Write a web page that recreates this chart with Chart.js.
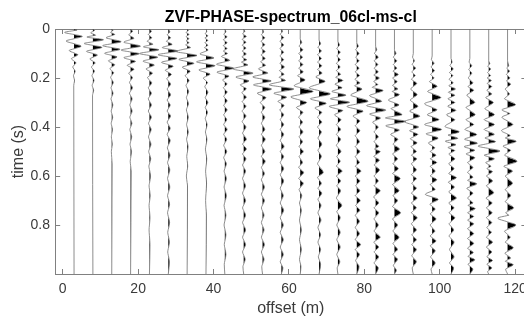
<!DOCTYPE html>
<html><head><meta charset="utf-8">
<script src="https://cdn.jsdelivr.net/npm/chart.js@4/dist/chart.umd.min.js"></script>
<style>html,body{margin:0;padding:0;background:#fff;overflow:hidden}#wrap{width:524px;height:320px;overflow:hidden}canvas{display:block}</style>
</head><body><div id="wrap"><canvas id="c" width="530" height="320" style="width:530px;height:320px"></canvas></div>
<script>
const chartTitle = 'ZVF-PHASE-spectrum_06cl-ms-cl';
const xAxisLabel = 'offset (m)';
const yAxisLabel = 'time (s)';
const xTickValues = [0, 20, 40, 60, 80, 100, 120];
const xTickLabels = ['0', '20', '40', '60', '80', '100', '120'];
const yTickValues = [0, 0.2, 0.4, 0.6, 0.8];
const yTickLabels = ['0', '0.2', '0.4', '0.6', '0.8'];
const offsets = [3, 8, 13, 18, 23, 28, 33, 38, 43, 48, 53, 58, 63, 68, 73, 78, 83, 88, 93, 98, 103, 108, 113, 118];

// each trace: [time (s), amplitude (m of offset), ...] at the extrema of the wiggle
const trace03 = [0,0, 0.004,0.8, 0.014,-2.5, 0.030,2.2, 0.049,-2.1, 0.070,1.9, 0.088,-1.3, 0.105,1.0, 0.121,-0.7, 0.138,0.5, 0.155,-0.35, 0.172,0.3, 0.19,-0.15, 0.21,0.12, 0.23,-0.08, 1,0];
const trace08 = [0,0, 0.006,0.4, 0.016,-0.6, 0.025,0.7, 0.033,-1.6, 0.044,2.8, 0.059,-2.3, 0.075,2.4, 0.091,-1.7, 0.106,1.2, 0.122,-0.8, 0.138,0.6, 0.155,-0.4, 0.172,0.4, 0.19,-0.25, 0.21,0.3, 0.23,-0.2, 0.25,0.2, 0.27,-0.1, 1,0];
const trace13 = [0,0, 0.006,0.3, 0.014,-0.3, 0.022,0.8, 0.036,-1.5, 0.052,2.5, 0.068,-2.4, 0.083,2.2, 0.099,-1.9, 0.114,1.4, 0.13,-0.9, 0.146,0.8, 0.162,-0.5, 0.178,0.5, 0.197,-0.3, 0.218,0.4, 0.24,-0.2, 0.262,0.35, 0.285,-0.2, 0.31,0.3, 0.335,-0.15, 0.36,0.25, 0.385,-0.15, 0.41,0.2, 0.44,-0.1, 0.47,0.15, 0.5,-0.1, 0.55,0.1, 1,0];
const trace18 = [0,0, 0.01,0.5, 0.024,-0.5, 0.038,0.9, 0.054,-1.8, 0.07,2.6, 0.086,-2.5, 0.101,2.3, 0.117,-1.8, 0.132,1.3, 0.148,-0.9, 0.164,0.9, 0.18,-0.5, 0.198,0.5, 0.218,-0.3, 0.24,0.5, 0.262,-0.3, 0.285,0.4, 0.31,-0.2, 0.335,0.4, 0.36,-0.2, 0.385,0.35, 0.41,-0.2, 0.44,0.3, 0.47,-0.15, 0.5,0.25, 0.54,-0.1, 0.58,0.15, 1,0];
const trace23 = [0,0, 0.01,0.5, 0.022,-0.3, 0.036,0.6, 0.05,-0.6, 0.062,0.9, 0.073,-1.6, 0.085,2.5, 0.1,-2.6, 0.115,2.2, 0.131,-1.7, 0.147,1.3, 0.163,-0.9, 0.18,0.8, 0.198,-0.5, 0.22,0.6, 0.24,-0.3, 0.262,0.5, 0.285,-0.3, 0.31,0.5, 0.335,-0.3, 0.36,0.5, 0.385,-0.25, 0.41,0.45, 0.44,-0.25, 0.47,0.4, 0.5,-0.2, 0.53,0.35, 0.56,-0.15, 0.6,0.3, 0.64,-0.1, 0.68,0.2, 0.72,-0.1, 0.77,0.15, 0.82,-0.1, 0.88,0.15, 1,0];
const trace28 = [0,0, 0.012,0.4, 0.024,-0.3, 0.036,0.6, 0.05,-0.5, 0.063,1.0, 0.076,-1.6, 0.09,2.5, 0.105,-2.7, 0.12,2.3, 0.136,-1.8, 0.152,1.3, 0.168,-0.8, 0.185,0.8, 0.202,-0.4, 0.225,0.6, 0.245,-0.3, 0.268,0.6, 0.29,-0.3, 0.31,0.5, 0.335,-0.3, 0.355,0.6, 0.38,-0.3, 0.405,0.5, 0.43,-0.3, 0.455,0.5, 0.485,-0.25, 0.515,0.45, 0.545,-0.2, 0.575,0.4, 0.61,-0.2, 0.645,0.4, 0.68,-0.2, 0.715,0.35, 0.75,-0.2, 0.79,0.35, 0.83,-0.15, 0.87,0.3, 0.91,-0.15, 0.95,0.3, 1,0];
const trace33 = [0,0, 0.006,0.3, 0.014,-0.3, 0.022,0.5, 0.031,-0.3, 0.04,0.5, 0.048,-0.3, 0.056,0.5, 0.065,-0.4, 0.076,0.9, 0.092,-2.9, 0.108,2.6, 0.124,-2.2, 0.14,1.8, 0.156,-1.3, 0.172,0.8, 0.19,-0.5, 0.21,0.5, 0.23,-0.3, 0.255,0.4, 0.28,-0.2, 0.305,0.35, 0.33,-0.2, 0.36,0.3, 0.39,-0.15, 0.42,0.3, 0.45,-0.15, 0.48,0.25, 0.52,-0.1, 0.56,0.15, 0.6,-0.2, 0.64,0.1, 1,0];
const trace38 = [0,0, 0.01,0.2, 0.02,-0.2, 0.028,0.5, 0.037,-0.3, 0.046,0.5, 0.056,-0.3, 0.066,0.5, 0.076,-0.4, 0.086,0.6, 0.102,-1.6, 0.118,2.1, 0.134,-2.5, 0.15,2.4, 0.167,-1.9, 0.184,1.1, 0.2,-0.7, 0.218,0.4, 0.235,-0.3, 0.258,0.5, 0.28,-0.2, 0.3,0.5, 0.32,-0.2, 0.34,0.4, 0.365,-0.2, 0.39,0.3, 0.42,-0.15, 0.45,0.25, 0.49,-0.15, 0.53,0.2, 0.58,-0.1, 0.63,0.15, 0.7,-0.1, 0.76,0.1, 1,0];
const trace43 = [0,0, 0.012,0.3, 0.022,-0.3, 0.032,0.6, 0.044,-0.4, 0.056,0.6, 0.068,-0.4, 0.08,0.6, 0.09,-0.4, 0.1,0.7, 0.112,-0.9, 0.128,1.3, 0.144,-2.2, 0.16,2.4, 0.176,-2.1, 0.192,1.1, 0.208,-0.6, 0.224,0.6, 0.24,-0.4, 0.257,0.6, 0.275,-0.3, 0.293,0.6, 0.312,-0.3, 0.33,0.6, 0.35,-0.3, 0.37,0.5, 0.39,-0.3, 0.41,0.6, 0.43,-0.3, 0.45,0.5, 0.475,-0.3, 0.5,0.5, 0.525,-0.3, 0.55,0.4, 0.58,-0.2, 0.61,0.4, 0.645,-0.2, 0.68,0.4, 0.72,-0.2, 0.76,0.3, 0.8,-0.2, 0.84,0.3, 0.88,-0.15, 0.92,0.3, 0.96,-0.15, 1,0];
const trace48 = [0,0, 0.01,0.3, 0.02,-0.3, 0.03,0.7, 0.042,-0.4, 0.054,0.6, 0.066,-0.4, 0.078,0.6, 0.09,-0.4, 0.102,0.7, 0.114,-0.5, 0.126,0.8, 0.135,-0.6, 0.147,1.1, 0.163,-2.8, 0.18,2.5, 0.196,-2.1, 0.212,1.4, 0.228,-0.9, 0.244,0.7, 0.26,-0.5, 0.278,0.7, 0.296,-0.4, 0.315,0.6, 0.335,-0.4, 0.355,0.6, 0.378,-0.4, 0.4,0.6, 0.425,-0.3, 0.45,0.7, 0.47,-0.3, 0.49,0.7, 0.51,-0.3, 0.53,0.6, 0.555,-0.3, 0.58,0.5, 0.61,-0.3, 0.64,0.5, 0.67,-0.3, 0.7,0.5, 0.73,-0.3, 0.76,0.5, 0.79,-0.3, 0.82,0.5, 0.85,-0.3, 0.88,0.5, 0.91,-0.3, 0.94,0.4, 0.97,-0.2, 1,0];
const trace53 = [0,0, 0.012,0.3, 0.024,-0.3, 0.036,0.6, 0.05,-0.4, 0.064,0.6, 0.078,-0.4, 0.092,0.7, 0.106,-0.4, 0.12,0.7, 0.134,-0.5, 0.148,0.8, 0.163,-1.1, 0.18,1.4, 0.196,-2.6, 0.212,2.3, 0.228,-2.4, 0.245,2.4, 0.262,-1.4, 0.28,0.9, 0.3,-0.6, 0.32,0.6, 0.34,-0.3, 0.36,0.6, 0.385,-0.3, 0.41,0.6, 0.43,-0.3, 0.45,0.7, 0.475,-0.3, 0.5,0.6, 0.52,-0.3, 0.54,0.7, 0.565,-0.3, 0.59,0.5, 0.615,-0.3, 0.645,0.5, 0.675,-0.3, 0.7,0.5, 0.73,-0.3, 0.76,0.4, 0.79,-0.3, 0.82,0.4, 0.85,-0.3, 0.88,0.5, 0.91,-0.3, 0.94,0.4, 0.97,-0.2, 1,0];
const trace58 = [0,0, 0.01,0.3, 0.022,-0.3, 0.035,0.6, 0.05,-0.4, 0.065,0.6, 0.08,-0.4, 0.095,0.6, 0.11,-0.4, 0.125,0.6, 0.14,-0.4, 0.155,0.8, 0.17,-0.5, 0.185,0.7, 0.197,-0.6, 0.21,1.1, 0.228,-3.2, 0.245,3.3, 0.262,-2.0, 0.278,1.4, 0.295,-0.9, 0.312,0.7, 0.33,-0.4, 0.35,0.6, 0.37,-0.3, 0.39,0.6, 0.41,-0.3, 0.43,0.6, 0.455,-0.3, 0.48,0.7, 0.5,-0.3, 0.52,0.6, 0.545,-0.3, 0.57,0.6, 0.595,-0.3, 0.62,0.6, 0.65,-0.3, 0.68,0.5, 0.71,-0.3, 0.74,0.6, 0.77,-0.3, 0.8,0.5, 0.83,-0.3, 0.86,0.5, 0.89,-0.3, 0.92,0.5, 0.95,-0.3, 0.975,0.4, 1,0];
const trace63 = [0,0, 0.04,0, 0.055,0.4, 0.07,-0.3, 0.085,0.7, 0.1,-0.4, 0.115,0.6, 0.13,-0.4, 0.145,0.7, 0.16,-0.4, 0.175,0.8, 0.191,-0.7, 0.208,1.3, 0.232,-1.6, 0.255,3.4, 0.277,-2.5, 0.3,1.7, 0.32,-1.0, 0.34,0.7, 0.36,-0.4, 0.38,0.6, 0.4,-0.3, 0.42,0.7, 0.44,-0.3, 0.46,0.6, 0.48,-0.3, 0.5,0.8, 0.52,-0.3, 0.545,0.6, 0.565,-0.4, 0.586,0.9, 0.61,-0.4, 0.63,0.8, 0.655,-0.3, 0.68,0.4, 0.71,-0.2, 0.74,0.3, 0.78,-0.2, 0.82,0.3, 0.86,-0.2, 0.9,0.3, 0.94,-0.2, 0.97,0.2, 1,0];
const trace68 = [0,0, 0.045,0, 0.06,0.4, 0.075,-0.3, 0.09,0.6, 0.105,-0.4, 0.12,0.6, 0.135,-0.4, 0.15,0.7, 0.165,-0.4, 0.18,0.8, 0.196,-0.9, 0.214,1.6, 0.24,-2.6, 0.265,3.0, 0.285,-2.3, 0.303,1.9, 0.322,-1.1, 0.34,0.7, 0.36,-0.4, 0.38,0.7, 0.4,-0.4, 0.42,0.6, 0.445,-0.3, 0.47,0.7, 0.495,-0.3, 0.52,0.6, 0.55,-0.4, 0.586,1.1, 0.605,-0.4, 0.63,0.6, 0.65,-0.3, 0.67,0.7, 0.695,-0.3, 0.72,0.5, 0.75,-0.3, 0.78,0.5, 0.81,-0.3, 0.84,0.4, 0.87,-0.3, 0.9,0.4, 0.93,-0.2, 0.96,0.4, 1,0];
const trace73 = [0,0, 0.05,0, 0.065,0.4, 0.08,-0.3, 0.095,0.6, 0.11,-0.3, 0.125,0.6, 0.14,-0.4, 0.155,0.6, 0.17,-0.4, 0.185,0.7, 0.197,-0.6, 0.21,1.3, 0.225,-0.8, 0.24,1.1, 0.255,-1.6, 0.27,2.1, 0.285,-2.0, 0.299,3.1, 0.316,-2.3, 0.333,1.3, 0.35,-0.9, 0.37,0.8, 0.39,-0.4, 0.41,0.7, 0.43,-0.4, 0.45,0.7, 0.475,-0.4, 0.5,0.8, 0.52,-0.3, 0.54,0.6, 0.56,-0.4, 0.58,1.1, 0.6,-0.4, 0.62,0.7, 0.64,-0.3, 0.66,0.7, 0.69,-0.4, 0.72,1.0, 0.745,-0.3, 0.77,0.6, 0.8,-0.3, 0.83,0.6, 0.86,-0.3, 0.89,0.6, 0.92,-0.3, 0.95,0.5, 0.975,-0.2, 1,0];
const trace78 = [0,0, 0.055,0, 0.07,0.4, 0.085,-0.3, 0.1,0.6, 0.115,-0.3, 0.13,0.6, 0.145,-0.4, 0.16,0.6, 0.175,-0.4, 0.19,0.7, 0.205,-0.5, 0.22,0.8, 0.232,-0.6, 0.245,1.4, 0.27,-1.6, 0.295,3.0, 0.316,-2.6, 0.335,1.7, 0.355,-1.0, 0.375,0.8, 0.395,-0.4, 0.415,0.8, 0.435,-0.4, 0.46,0.7, 0.48,-0.4, 0.5,0.8, 0.52,-0.4, 0.545,0.7, 0.56,-0.4, 0.58,1.1, 0.6,-0.4, 0.62,0.8, 0.64,-0.3, 0.66,0.8, 0.68,-0.4, 0.7,0.9, 0.72,-0.3, 0.74,0.8, 0.76,-0.4, 0.785,0.7, 0.81,-0.4, 0.835,0.7, 0.86,-0.4, 0.88,1.0, 0.9,-0.4, 0.92,0.7, 0.945,-0.3, 0.97,0.6, 1,0];
const trace83 = [0,0, 0.07,0, 0.085,0.3, 0.1,-0.3, 0.115,0.7, 0.13,-0.4, 0.145,0.6, 0.16,-0.4, 0.175,0.7, 0.188,-0.5, 0.2,1.0, 0.214,-0.5, 0.227,0.6, 0.238,-0.9, 0.251,2.0, 0.272,-1.6, 0.295,1.6, 0.313,-2.4, 0.331,2.7, 0.347,-1.6, 0.363,1.3, 0.38,-0.8, 0.4,0.7, 0.42,-0.4, 0.44,0.7, 0.46,-0.4, 0.48,0.8, 0.49,-0.3, 0.5,1.2, 0.52,-0.5, 0.535,1.0, 0.555,-0.4, 0.575,1.0, 0.6,-0.4, 0.62,0.7, 0.64,-0.4, 0.66,1.2, 0.685,-0.5, 0.71,0.8, 0.73,-0.4, 0.75,0.8, 0.775,-0.4, 0.8,0.7, 0.825,-0.4, 0.85,1.2, 0.87,-0.5, 0.89,0.8, 0.91,-0.4, 0.93,0.8, 0.955,-0.4, 0.975,0.7, 1,0];
const trace88 = [0,0, 0.085,0, 0.1,0.4, 0.115,-0.3, 0.13,0.6, 0.145,-0.3, 0.16,0.6, 0.172,-0.4, 0.186,1.0, 0.2,-0.5, 0.215,0.7, 0.23,-0.5, 0.245,0.9, 0.255,-0.6, 0.268,1.3, 0.29,-1.6, 0.31,1.2, 0.325,-0.9, 0.35,2.0, 0.363,-2.4, 0.377,3.0, 0.395,-2.3, 0.412,1.3, 0.43,-1.0, 0.45,0.9, 0.47,-0.4, 0.49,1.3, 0.51,-0.5, 0.53,0.8, 0.55,-0.4, 0.57,1.0, 0.59,-0.5, 0.61,1.5, 0.635,-0.5, 0.66,1.2, 0.68,-0.4, 0.7,0.8, 0.725,-0.5, 0.75,1.6, 0.775,-0.5, 0.8,0.8, 0.825,-0.4, 0.85,1.2, 0.875,-0.4, 0.9,0.8, 0.92,-0.4, 0.94,0.8, 0.965,-0.3, 0.985,0.5, 1,0];
const trace93 = [0,0, 0.1,0, 0.115,-0.2, 0.13,0.3, 0.145,-0.3, 0.16,0.6, 0.175,-0.4, 0.19,0.5, 0.205,-0.5, 0.222,0.9, 0.245,-0.7, 0.268,1.0, 0.29,-0.8, 0.316,1.2, 0.335,-1.0, 0.356,1.7, 0.378,-2.3, 0.4,1.4, 0.415,-1.0, 0.43,1.2, 0.448,-0.8, 0.465,1.0, 0.48,-0.6, 0.5,0.8, 0.515,-0.5, 0.53,0.9, 0.55,-0.5, 0.575,0.8, 0.595,-0.5, 0.61,0.8, 0.63,-0.4, 0.65,0.8, 0.67,-0.5, 0.69,1.0, 0.71,-0.5, 0.73,0.8, 0.75,-0.5, 0.77,1.0, 0.795,-0.5, 0.82,0.8, 0.84,-0.4, 0.86,0.8, 0.88,-0.4, 0.9,0.8, 0.925,-0.4, 0.95,0.8, 0.975,-0.3, 1,0];
const trace98 = [0,0, 0.11,0, 0.125,-0.2, 0.14,0.5, 0.155,-0.3, 0.17,0.6, 0.185,-0.4, 0.2,0.5, 0.215,-0.7, 0.234,1.3, 0.255,-1.2, 0.28,2.3, 0.305,-2.0, 0.33,1.3, 0.35,-1.3, 0.37,1.8, 0.39,-2.0, 0.41,2.5, 0.428,-1.6, 0.445,1.6, 0.465,-1.0, 0.485,0.7, 0.5,-0.5, 0.515,1.0, 0.53,-0.5, 0.545,1.2, 0.56,-0.5, 0.58,0.8, 0.6,-0.5, 0.615,1.2, 0.635,-0.5, 0.655,0.8, 0.675,-1.8, 0.695,1.6, 0.715,-0.6, 0.735,0.8, 0.755,-0.5, 0.775,1.0, 0.8,-0.5, 0.825,0.7, 0.845,-0.5, 0.865,1.0, 0.885,-0.5, 0.905,0.8, 0.93,-0.4, 0.955,0.8, 0.98,-0.3, 1,0];
const trace103 = [0,0, 0.12,0, 0.135,0.3, 0.15,-0.3, 0.163,0.6, 0.178,-0.4, 0.19,0.5, 0.205,-0.5, 0.22,0.6, 0.232,-0.6, 0.245,1.2, 0.258,-0.7, 0.27,1.0, 0.285,-0.8, 0.3,1.0, 0.315,-0.9, 0.332,1.3, 0.35,-1.2, 0.37,1.0, 0.398,-1.6, 0.42,2.2, 0.433,-0.8, 0.446,1.8, 0.458,-1.5, 0.472,1.3, 0.484,-0.8, 0.496,1.0, 0.51,-0.6, 0.53,1.0, 0.55,-0.6, 0.57,0.8, 0.59,-0.6, 0.607,1.4, 0.625,-0.7, 0.645,0.9, 0.665,-0.6, 0.69,1.4, 0.71,-0.6, 0.73,0.8, 0.75,-0.5, 0.77,1.0, 0.795,-0.5, 0.82,0.7, 0.845,-0.5, 0.87,0.8, 0.9,-0.4, 0.93,0.8, 0.955,-0.4, 0.975,0.7, 1,0];
const trace108 = [0,0, 0.12,0, 0.135,-0.2, 0.15,0.5, 0.165,-0.3, 0.18,0.5, 0.2,-0.4, 0.22,0.8, 0.235,-0.5, 0.25,1.0, 0.27,-0.8, 0.3,1.3, 0.32,-1.0, 0.35,1.4, 0.37,-1.0, 0.39,1.0, 0.41,-1.3, 0.431,1.8, 0.45,-1.4, 0.466,2.0, 0.48,-1.5, 0.495,1.3, 0.51,-1.0, 0.525,1.3, 0.545,-0.6, 0.565,0.8, 0.585,-0.6, 0.605,0.8, 0.618,-0.6, 0.632,1.8, 0.65,-0.8, 0.67,0.8, 0.69,-0.6, 0.71,0.8, 0.72,-0.5, 0.733,1.4, 0.75,-0.6, 0.765,1.0, 0.78,-0.6, 0.795,1.0, 0.815,-0.6, 0.835,1.0, 0.855,-0.6, 0.875,1.0, 0.895,-0.6, 0.912,0.9, 0.928,-0.5, 0.942,1.3, 0.96,-0.5, 0.98,0.8, 1,0];
const trace113 = [0,0, 0.13,0, 0.142,0.3, 0.152,-0.3, 0.163,0.5, 0.178,-0.3, 0.19,0.5, 0.2,-0.4, 0.21,0.7, 0.222,-0.4, 0.235,0.8, 0.25,-0.5, 0.265,0.8, 0.28,-0.8, 0.3,1.2, 0.325,-1.0, 0.35,1.5, 0.37,-1.2, 0.39,1.5, 0.41,-1.2, 0.43,1.5, 0.445,-1.0, 0.46,1.8, 0.478,-2.8, 0.498,3.0, 0.515,-1.2, 0.53,1.5, 0.545,-0.8, 0.56,0.6, 0.57,-0.5, 0.582,1.0, 0.6,-0.6, 0.62,1.0, 0.64,-0.6, 0.668,1.3, 0.69,-0.7, 0.71,0.9, 0.73,-0.6, 0.75,0.9, 0.77,-0.6, 0.79,0.8, 0.81,-0.5, 0.83,0.7, 0.85,-0.6, 0.87,1.0, 0.89,-0.6, 0.91,0.8, 0.93,-0.5, 0.945,1.0, 0.96,-0.5, 0.975,0.8, 0.99,-0.3, 1,0];
const trace118 = [0,0, 0.13,0, 0.15,0.3, 0.16,-0.2, 0.172,0.5, 0.185,-0.3, 0.2,0.6, 0.212,-0.3, 0.225,0.8, 0.245,-0.6, 0.265,0.5, 0.285,-0.8, 0.309,2.1, 0.33,-1.5, 0.345,0.6, 0.36,-1.5, 0.39,1.4, 0.415,-1.6, 0.435,0.7, 0.445,-0.6, 0.458,2.3, 0.478,-1.2, 0.495,0.8, 0.515,-0.8, 0.54,2.5, 0.56,-1.0, 0.58,1.3, 0.6,-0.6, 0.63,1.3, 0.655,-0.6, 0.68,0.8, 0.705,-0.6, 0.73,1.6, 0.75,-0.5, 0.76,0.3, 0.772,-2.6, 0.8,2.2, 0.825,-0.8, 0.85,0.7, 0.87,-0.6, 0.893,1.5, 0.915,-0.7, 0.935,0.8, 0.948,-0.6, 0.962,1.5, 0.98,-0.5, 1,0];

const traces = [trace03, trace08, trace13, trace18, trace23, trace28, trace33, trace38, trace43, trace48, trace53, trace58, trace63, trace68, trace73, trace78, trace83, trace88, trace93, trace98, trace103, trace108, trace113, trace118];

const FONT = "'Liberation Sans', Arial, Helvetica, sans-serif";
const AXIS_COLOR = '#808080';
const TEXT_COLOR = '#3a3a3a';

// split each segment where it crosses the trace baseline
function withCrossings(flat) {
  const pts = [];
  for (let i = 0; i < flat.length; i += 2) pts.push([flat[i], flat[i + 1]]);
  const out = [];
  for (let i = 0; i < pts.length; i++) {
    if (i > 0) {
      const [t1, a1] = pts[i - 1], [t2, a2] = pts[i];
      if (a1 * a2 < 0) out.push([t1 + (t2 - t1) * a1 / (a1 - a2), 0]);
    }
    out.push(pts[i]);
  }
  return out;
}

const datasets = [];
traces.forEach((tr, k) => {
  const base = offsets[k];
  const pts = withCrossings(tr);
  datasets.push({
    data: pts.map(([t, a]) => ({x: base + a, y: t})),
    xAxisID: 'x', yAxisID: 'y',
    borderColor: '#707070', borderWidth: 0.8, pointRadius: 0,
    cubicInterpolationMode: 'monotone',
    fill: false, order: 0
  });
  datasets.push({
    data: pts.map(([t, a]) => ({x: base + Math.max(a, 0), y: t})),
    xAxisID: 'x', yAxisID: 'y',
    borderWidth: 0, borderColor: 'rgba(0,0,0,0)', backgroundColor: '#000',
    pointRadius: 0, cubicInterpolationMode: 'monotone', fill: {value: base}, order: 1
  });
});

const tickFont = {family: FONT, size: 14};
const labelFont = {family: FONT, size: 16};
const gridCfg = {drawOnChartArea: false, drawTicks: true, tickLength: -5, tickColor: AXIS_COLOR, tickWidth: 1};
const borderCfg = {display: true, color: AXIS_COLOR, width: 1};
function noPad(s) { s.paddingLeft = 0; s.paddingRight = 0; s.paddingTop = 0; s.paddingBottom = 0; }

new Chart(document.getElementById('c'), {
  type: 'line',
  data: {datasets},
  options: {
    indexAxis: 'y',
    responsive: false,
    animation: false,
    events: [],
    layout: {padding: 0},
    plugins: {
      legend: {display: false},
      tooltip: {enabled: false},
      title: {
        display: true, text: chartTitle, fullSize: false, color: '#000',
        font: {family: FONT, size: 15.8, weight: 'bold', lineHeight: 1.2},
        padding: {top: 7.8, bottom: 0}
      }
    },
    scales: {
      x: {
        type: 'linear', position: 'bottom', min: -2, max: 123,
        afterBuildTicks: s => { s.ticks = xTickValues.map(v => ({value: v})); },
        afterFit: s => { s.height = 46; noPad(s); },
        ticks: {callback: (v, i) => xTickLabels[i], padding: 11.75, font: tickFont, color: TEXT_COLOR, maxRotation: 0, autoSkip: false},
        grid: gridCfg, border: borderCfg,
        title: {display: true, text: xAxisLabel, font: labelFont, color: TEXT_COLOR, padding: {top: 0, bottom: 2.2}}
      },
      y: {
        type: 'linear', position: 'left', reverse: true, min: 0, max: 1,
        afterBuildTicks: s => { s.ticks = yTickValues.map(v => ({value: v})); },
        afterFit: s => { s.width = 55.2; noPad(s); },
        ticks: {callback: (v, i) => yTickLabels[i], padding: 10.2, font: tickFont, color: TEXT_COLOR, autoSkip: false},
        grid: gridCfg, border: borderCfg,
        title: {display: true, text: yAxisLabel, font: labelFont, color: TEXT_COLOR, padding: {top: 9.2, bottom: 0}}
      },
      x2: {
        type: 'linear', axis: 'x', position: 'top', min: -2, max: 123,
        afterBuildTicks: s => { s.ticks = xTickValues.map(v => ({value: v})); },
        afterFit: s => { s.height = 2.24; noPad(s); },
        ticks: {display: false}, grid: gridCfg, border: borderCfg
      },
      y2: {
        type: 'linear', axis: 'y', position: 'right', reverse: true, min: 0, max: 1,
        afterBuildTicks: s => { s.ticks = yTickValues.map(v => ({value: v})); },
        afterFit: s => { s.width = 3.6; noPad(s); },
        ticks: {display: false}, grid: gridCfg, border: borderCfg
      }
    }
  }
});
</script>
</body></html>
